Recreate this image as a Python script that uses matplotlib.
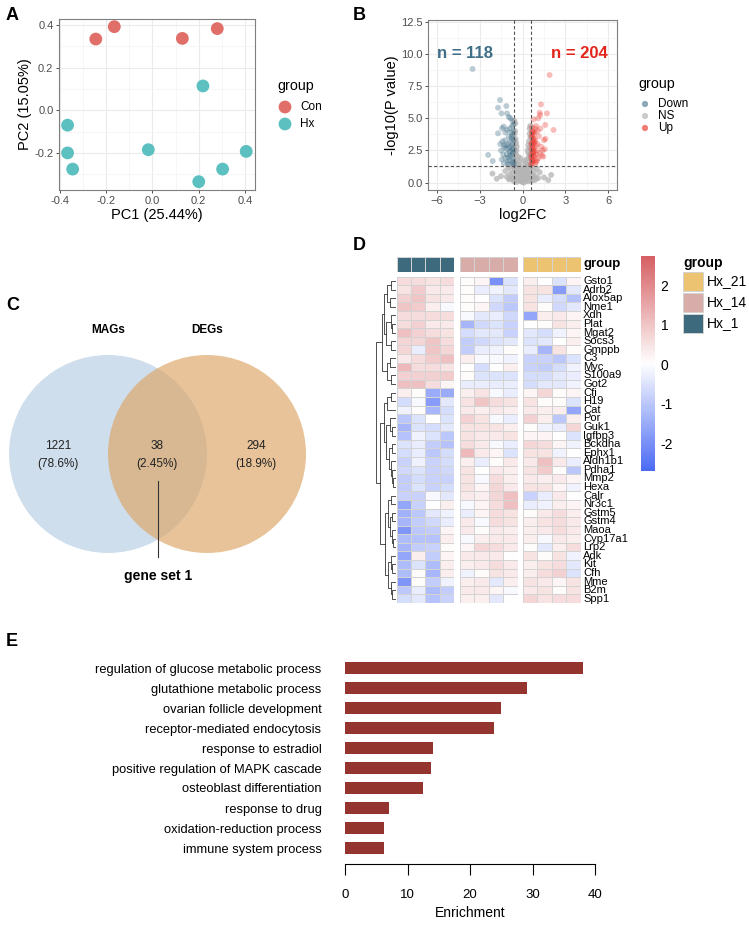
import numpy as np
import matplotlib
matplotlib.use("Agg")
import matplotlib.pyplot as plt
from matplotlib.patches import Circle, Rectangle
from matplotlib.colors import LinearSegmentedColormap, Normalize

plt.rcParams['font.family'] = ['Liberation Sans', 'DejaVu Sans']

# ---------------- DATA ----------------
# Panel A: PCA
pca_groups = ["Con", "Hx"]
con_pc1 = [-0.245, -0.165, 0.129, 0.280]
con_pc2 = [0.334, 0.392, 0.337, 0.383]
hx_pc1 = [0.218, -0.367, -0.367, -0.345, -0.018, 0.200, 0.303, 0.405]
hx_pc2 = [0.114, -0.070, -0.200, -0.276, -0.185, -0.335, -0.276, -0.193]

# Panel B: volcano
down_x = [-3.49, -1.57, -1.71, -1.13, -1.47, -1.08, -0.85, -1.31, -1.71, -1.43, -0.73, -1.08,
          -2.40, -2.08, -1.4, -1.3, -1.2, -1.1, -1.0, -0.9, -0.8, -0.75, -0.7, -0.65, -1.5,
          -1.35, -1.2, -1.05, -0.9, -0.8, -0.7, -1.25, -0.95, -0.85, -0.62, -1.45, -1.1,
          -0.68, -1.55, -0.6, -1.0, -1.3, -0.78, -0.9, -1.2, -0.65, -0.7, -0.95,
          -0.66, -0.72, -0.82, -0.61, -0.88, -1.15, -0.76, -0.64, -0.93, -1.02, -0.7, -0.63]
down_y = [8.83, 6.42, 5.82, 5.95, 5.38, 5.38, 5.0, 4.35, 3.83, 4.22, 4.4, 4.09,
          2.15, 1.68, 3.2, 2.9, 3.3, 2.6, 3.0, 2.4, 2.8, 3.4, 2.2, 1.8, 2.5,
          2.2, 1.9, 1.6, 1.7, 2.0, 1.5, 2.7, 3.6, 3.2, 2.6, 1.8, 2.2,
          3.0, 3.0, 1.4, 1.45, 1.5, 3.9, 4.2, 3.9, 4.0, 4.8, 5.1,
          2.35, 2.65, 2.45, 3.3, 2.1, 2.9, 3.55, 1.6, 2.75, 1.95, 3.7, 4.5]
up_x = [1.89, 1.29, 1.20, 1.71, 0.78, 2.17, 1.59, 1.24, 1.45, 0.65, 0.7, 0.75, 0.8, 0.65,
        0.7, 0.85, 0.9, 0.6, 0.95, 1.0, 1.05, 0.88, 0.72, 0.62, 0.78, 1.1, 1.2, 1.3, 1.5,
        1.4, 1.15, 0.95, 1.35, 1.55, 0.68, 0.82, 0.92, 1.05, 1.25, 0.6, 0.75, 0.66, 1.1,
        0.88, 1.6, 0.7, 0.8, 0.64, 0.62, 0.68, 0.74, 0.81, 0.63, 0.69, 0.77, 0.85, 0.97,
        1.02, 0.66, 0.73, 0.61, 0.79]
up_y = [8.36, 6.08, 5.43, 5.38, 4.92, 4.09, 4.48, 5.25, 2.02, 1.5, 1.9, 2.3, 2.7, 3.1,
        3.5, 3.9, 4.2, 2.0, 1.6, 2.5, 3.0, 3.3, 4.0, 2.6, 1.7, 1.9, 2.3, 2.8, 3.3,
        2.5, 3.6, 4.4, 2.1, 2.6, 3.8, 2.1, 2.9, 4.0, 4.2, 1.4, 3.0, 4.3, 5.0,
        1.5, 3.4, 2.4, 3.4, 1.8, 2.2, 2.8, 3.25, 2.45, 3.6, 1.65, 2.05, 3.15, 2.2,
        1.75, 3.95, 2.6, 3.0, 3.7]
ns_x = [0.0, 0.1, -0.1, 0.2, -0.2, 0.3, -0.3, 0.4, -0.4, 0.45, -0.45, 0.5, -0.5, 0.55, -0.55,
        0.5, -0.5, 0.0, 0.05, -0.05, 0.15, -0.15, 0.25, -0.25, 0.35, -0.35, 0.45, -0.45, 0.55,
        -0.55, 0.6, -0.6, 0.7, -0.7, 0.8, -0.8, 0.9, -0.9, 1.0, -1.0, 1.2, -1.2, 1.5, -1.5,
        0.3, -0.3, 0.35, -0.4, 0.45, -0.48, 0.2, -0.2, 0.1, -0.1, 0.4, -0.4, 0.0, 0.25, -0.25,
        1.8, -1.8, 2.0, -2.1, 0.3, -0.3, 0.15, -0.15, 0.5, -0.5, 0.05, -0.05, 0.6, -0.65,
        0.08, -0.08, 0.18, -0.18, 0.28, -0.28, 0.38, -0.38, 0.48, -0.48, 0.12, -0.12, 0.22,
        -0.22, 0.32, -0.32, 0.42, -0.42, 0.52, -0.52, 0.75, -0.75, 0.95, -0.95, 1.1, -1.1,
        0.65, -0.6, 0.85, -0.85, 0.4, -0.45, 0.5, -0.52, 0.35, -0.36, 0.02, -0.02, 0.55, -0.57]
ns_y = [0.05, 0.2, 0.3, 0.5, 0.6, 0.9, 1.0, 1.3, 1.5, 2.0, 2.2, 2.7, 3.0, 3.5, 3.8,
        4.2, 4.6, 0.5, 0.9, 1.2, 1.1, 0.8, 0.15, 0.2, 0.4, 0.5, 0.7, 0.9, 1.0,
        1.1, 0.3, 0.4, 0.6, 0.7, 0.9, 1.0, 0.5, 0.6, 1.1, 1.2, 0.8, 0.9, 0.4, 0.5,
        1.8, 2.0, 2.5, 2.8, 3.2, 3.4, 1.5, 1.6, 0.0, 0.1, 0.1, 0.05, 1.0, 1.3, 1.4,
        0.2, 0.3, 0.6, 0.7, 0.2, 0.35, 1.7, 1.9, 0.3, 0.2, 0.6, 0.7, 1.2, 1.3,
        0.35, 0.45, 0.65, 0.75, 0.55, 0.65, 0.8, 0.85, 1.6, 1.75, 0.25, 0.15, 0.95,
        1.05, 1.2, 1.15, 2.3, 2.5, 2.2, 2.4, 0.45, 0.35, 0.3, 0.25, 0.35, 0.45,
        0.15, 0.1, 0.2, 0.3, 2.9, 3.1, 3.8, 4.0, 0.6, 0.75, 0.25, 0.4, 4.4, 4.8]
n_down, n_up = 118, 204
fc_cut, p_cut = 0.585, 1.301

# Panel C: Venn counts
venn_sets = ["MAGs", "DEGs"]
venn_counts = [1221, 38, 294]

# Panel D: heatmap
genes = ["Gsto1", "Adrb2", "Alox5ap", "Nme1", "Xdh", "Plat", "Mgat2", "Socs3", "Gmppb", "C3",
         "Myc", "S100a9", "Got2", "Cfi", "H19", "Cat", "Por", "Guk1", "Igfbp3", "Bckdha",
         "Ephx1", "Aldh1b1", "Pdha1", "Mmp2", "Hexa", "Calr", "Nr3c1", "Gstm5", "Gstm4", "Maoa",
         "Cyp17a1", "Lrp2", "Adk", "Kit", "Cfh", "Mme", "B2m", "Spp1"]
heat_groups = ["Hx_1", "Hx_14", "Hx_21"]
heat_hx1 = [[0.6, 0.6, 0.5, 0.6], [0.5, 0.9, 0.4, 0.4], [0.8, 1.0, 0.5, 0.4], [1.0, 0.9, 0.3, -0.1],
            [0.6, 0.6, 0.6, 0.6], [0.6, 0.8, 0.4, 0.4], [1.1, 0.8, 0.6, 0.5], [0.7, 0.7, 1.0, 0.6],
            [0.7, -0.3, 1.0, 0.7], [0.4, 0.6, 0.9, 1.1], [1.2, 0.6, 0.6, 0.5], [0.8, 0.8, 0.8, 0.9],
            [1.1, 1.1, 0.6, 0.2], [0.3, 0.1, -1.5, -1.5], [-0.6, -0.1, -1.8, -0.4], [-0.2, 0.1, -1.3, -0.6],
            [-1.0, -0.5, 0.0, -0.5], [-1.3, -0.5, -0.6, -0.4], [-1.1, -0.2, -0.5, -1.0], [-0.5, -0.3, -0.9, -1.1],
            [-0.6, -0.3, -1.0, -0.6], [-0.8, -0.2, -0.8, -0.6], [-0.7, -0.5, -0.8, -0.7], [-0.9, -0.6, -0.8, -0.8],
            [-0.9, -0.5, -0.8, -0.6], [-0.8, -0.8, -0.1, -0.4], [-1.6, -0.8, 0.0, 0.3], [-1.4, -1.0, -0.4, -0.2],
            [-1.3, -0.9, -0.7, -0.3], [-1.9, -1.0, -0.9, 0.2], [-1.2, -1.1, -1.1, 0.3], [-1.3, -0.9, -0.8, 0.1],
            [-1.6, 0.3, -0.9, 0.2], [-1.2, -0.5, -1.2, 0.3], [-1.2, 0.1, -1.3, 0.3], [-1.9, 0.1, -0.9, -0.2],
            [-1.0, -0.3, -1.2, -0.9], [-0.6, -0.4, -1.1, -0.8]]
heat_hx14 = [[0.1, 0.2, -2.0, -0.5], [0.1, -0.3, -0.2, -0.4], [0.1, 0.0, -0.5, -0.9], [0.1, 0.2, -0.7, -1.0],
             [-0.1, -0.4, -0.3, -0.7], [-1.3, -0.7, -0.5, -0.8], [-0.6, -0.4, -0.4, -0.8], [-0.9, -0.7, -0.5, -0.4],
             [-0.9, -0.3, -0.2, 0.1], [0.3, -0.1, -0.1, -0.2], [0.0, -0.6, 0.0, 0.3], [0.1, -0.5, -0.5, -0.5],
             [-0.3, -0.3, -0.3, -0.3], [0.3, 0.5, -0.1, -0.3], [0.5, 1.0, 0.6, 0.5], [0.4, 0.3, 0.4, 0.3],
             [0.8, 0.5, -0.1, -0.3], [0.5, 0.5, 0.5, 0.3], [0.5, 0.4, 0.4, 0.5], [0.6, 0.4, -0.1, -0.3],
             [1.2, 0.4, 0.2, -0.5], [0.3, -0.3, 0.1, 0.4], [0.5, 0.0, 0.4, 0.3], [0.5, -0.1, 0.6, 0.3],
             [0.5, 0.2, 0.7, 0.4], [0.4, 0.3, 0.7, 1.1], [-0.1, 0.2, 0.6, 1.1], [-0.3, 0.2, 0.6, 0.5],
             [0.4, -0.1, 0.6, 0.5], [0.4, 0.1, 0.4, 0.3], [-0.1, 0.3, 0.4, 0.4], [0.2, 0.7, 0.6, 0.4],
             [0.4, 0.4, 0.4, 0.0], [0.3, 0.4, 0.6, 0.4], [-0.2, 0.1, 0.5, 0.4], [0.3, 0.4, -0.4, 0.3],
             [0.4, 0.4, 0.2, -0.1], [0.3, 0.3, -0.4, 0.0]]
heat_hx21 = [[0.3, 0.0, -0.5, 0.2], [0.5, 0.5, -1.8, -0.4], [0.5, -0.3, -0.6, -1.1], [0.5, 0.1, -0.7, -0.4],
             [-1.6, 0.3, 0.4, 0.2], [0.0, 0.1, 0.5, 0.3], [-0.4, -0.6, -0.2, 0.2], [-0.5, -0.4, 0.0, 0.3],
             [-0.3, -1.3, 0.5, 0.1], [-0.8, -0.8, -1.0, -0.5], [-0.8, -0.9, -0.6, -0.2], [-0.6, -0.6, -0.4, -0.3],
             [-0.6, -0.4, -0.4, -0.2], [0.2, 0.7, 0.1, 0.2], [0.5, 0.1, 0.1, -0.5], [0.4, 0.3, 0.3, -1.6],
             [0.8, 0.3, -1.0, 0.3], [0.1, -0.2, -0.3, 0.7], [0.2, 0.2, 0.0, -0.5], [0.7, 0.6, 0.2, -0.2],
             [0.5, 0.5, -0.2, 0.0], [0.4, 1.1, 0.4, -0.3], [0.5, 0.9, 0.1, -1.0], [0.4, 0.3, 0.4, 0.2],
             [0.5, 0.5, 0.2, -0.2], [-0.8, -0.3, 0.4, 0.0], [-0.3, -0.2, 0.3, 0.2], [0.1, 0.4, 0.6, 0.3],
             [0.3, 0.5, 0.6, 0.4], [0.3, 0.4, 0.6, 0.4], [0.3, -0.1, 0.4, 0.3], [0.1, -0.4, 0.3, 0.6],
             [0.5, 0.1, 0.5, -0.2], [0.3, 0.5, 0.6, -0.4], [0.3, 0.6, 0.8, -0.5], [0.5, 0.4, 0.2, 0.5],
             [0.4, 0.5, 0.1, 0.5], [0.7, 0.5, 0.6, 0.6]]
# row dendrogram (merge height, left, right); leaves are row indices
row_tree = [2.2,
            [1.6, [1.3, [1.0, [0.6, 0, 1], [0.7, 2, 3]],
                        [1.1, [0.6, 4, [0.4, 5, 6]], [0.6, 7, 8]]],
                  [1.0, [0.7, 9, 10], [0.6, 11, 12]]],
            [1.8, [1.4, [1.0, [0.6, 13, 14], 15],
                        [1.1, [0.7, 16, [0.5, 17, 18]],
                              [0.8, [0.5, 19, 20], [0.6, 21, [0.4, 22, [0.3, 23, 24]]]]]],
                  [1.2, [0.9, [0.6, 25, 26], [0.7, [0.4, 27, 28], [0.5, 29, [0.3, 30, 31]]]],
                        [0.9, [0.6, 32, [0.4, 33, 34]], [0.6, 35, [0.4, 36, 37]]]]]]
cbar_ticks = [-2, -1, 0, 1, 2]

# Panel E: enrichment
go_terms = ["regulation of glucose metabolic process", "glutathione metabolic process",
            "ovarian follicle development", "receptor-mediated endocytosis",
            "response to estradiol", "positive regulation of MAPK cascade",
            "osteoblast differentiation", "response to drug",
            "oxidation-reduction process", "immune system process"]
go_enrich = [38.1, 29.1, 25.0, 23.8, 14.1, 13.7, 12.5, 7.0, 6.3, 6.2]

# ---------------- FIGURE ----------------
W, H = 749, 932
fig = plt.figure(figsize=(W / 100, H / 100), dpi=100)


def px_axes(l, t, r, b, **kw):
    return fig.add_axes([l / W, 1 - b / H, (r - l) / W, (b - t) / H], **kw)


def ftext(x, y, s, **kw):
    fig.text(x / W, 1 - y / H, s, **kw)


ov = px_axes(0, 0, W, H, zorder=-5)
ov.set_xlim(0, W)
ov.set_ylim(H, 0)
ov.axis("off")

for lab, (x, y) in zip("ABCDE", [(6, 15), (353, 15), (6, 306), (353, 245), (6, 641)]):
    ftext(x, y, lab, fontsize=13, fontweight="bold", ha="left", va="center")


def theme_bw(ax, xmaj, xmin, ymaj, ymin):
    ax.set_xticks(xmaj)
    ax.set_xticks(xmin, minor=True)
    ax.set_yticks(ymaj)
    ax.set_yticks(ymin, minor=True)
    ax.grid(True, which="major", color="#EBEBEB", lw=0.8, zorder=0)
    ax.grid(True, which="minor", color="#F3F3F3", lw=0.5, zorder=0)
    ax.set_axisbelow(True)
    for s in ax.spines.values():
        s.set_color("#7F7F7F")
        s.set_linewidth(0.8)
    ax.tick_params(which="major", length=2.5, width=0.6, color="#333333", labelsize=8,
                   labelcolor="#4D4D4D", pad=1.5)
    ax.tick_params(which="minor", length=0)


# ---- Panel A ----
axA = px_axes(59, 19, 255, 190)
con_col, hx_col = "#E06F69", "#5CC0C0"
axA.scatter(con_pc1, con_pc2, s=85, color=con_col, edgecolors="none", zorder=3)
axA.scatter(hx_pc1, hx_pc2, s=85, color=hx_col, edgecolors="none", zorder=3)
axA.set_xlim(-0.404, 0.443)
axA.set_ylim(-0.374, 0.428)
theme_bw(axA, [-0.4, -0.2, 0.0, 0.2, 0.4], [-0.3, -0.1, 0.1, 0.3],
         [-0.2, 0.0, 0.2, 0.4], [-0.3, -0.1, 0.1, 0.3])
axA.set_xticklabels(["-0.4", "-0.2", "0.0", "0.2", "0.4"])
axA.set_yticklabels(["-0.2", "0.0", "0.2", "0.4"])
axA.set_xlabel("PC1 (25.44%)", fontsize=10.5, labelpad=1.5)
axA.set_ylabel("PC2 (15.05%)", fontsize=10.5, labelpad=1.5)
ftext(277, 86, "group", fontsize=10.3, va="center")
for i, (g, c) in enumerate(zip(pca_groups, [con_col, hx_col])):
    ov.scatter([285], [107 + 17 * i], s=85, color=c, edgecolors="none")
    ftext(300, 107 + 17 * i, g, fontsize=8.5, va="center")

# ---- Panel B ----
axB = px_axes(428, 20, 617, 190)
down_col, up_col, ns_col = "#3F6E87", "#E8261C", "#B5B5B5"
axB.scatter(ns_x, ns_y, s=18, color=ns_col, alpha=0.75, edgecolors="none", zorder=2)
axB.scatter(down_x, down_y, s=18, color=down_col, alpha=0.35, edgecolors="none", zorder=3)
axB.scatter(up_x, up_y, s=18, color=up_col, alpha=0.3, edgecolors="none", zorder=3)
for v in (-fc_cut, fc_cut):
    axB.axvline(v, color="#555555", lw=0.8, ls=(0, (3, 2)), zorder=4)
axB.axhline(p_cut, color="#555555", lw=0.8, ls=(0, (3, 2)), zorder=4)
axB.text(-4.0, 10.0, f"n = {n_down}", color="#3F6E87", fontsize=12, fontweight="bold",
         ha="center", va="center")
axB.text(4.0, 10.0, f"n = {n_up}", color="#E3261C", fontsize=12, fontweight="bold",
         ha="center", va="center")
axB.set_xlim(-6.6, 6.6)
axB.set_ylim(-0.57, 12.63)
theme_bw(axB, [-6, -3, 0, 3, 6], [-4.5, -1.5, 1.5, 4.5],
         [0, 2.5, 5, 7.5, 10, 12.5], [1.25, 3.75, 6.25, 8.75, 11.25])
axB.set_yticklabels(["0.0", "2.5", "5.0", "7.5", "10.0", "12.5"])
axB.set_xlabel("log2FC", fontsize=10.5, labelpad=1.5)
axB.set_ylabel("-log10(P value)", fontsize=10.5, labelpad=1.5)
ftext(638, 84, "group", fontsize=10.3, va="center")
for i, (g, c, a) in enumerate(zip(["Down", "NS", "Up"], [down_col, ns_col, up_col], [0.6, 0.7, 0.6])):
    ov.scatter([645], [104 + 12 * i], s=20, color=c, alpha=a, edgecolors="none")
    ftext(658, 104 + 12 * i, g, fontsize=8.5, va="center")

# ---- Panel C: Venn ----
axC = px_axes(0, 300, 370, 600)
axC.set_xlim(0, 370)
axC.set_ylim(600, 300)
axC.axis("off")
axC.add_patch(Circle((108, 454), 99, facecolor="#A9C3DD", alpha=0.55, edgecolor="none"))
axC.add_patch(Circle((207, 454), 99, facecolor="#DCA463", alpha=0.65, edgecolor="none"))
total = sum(venn_counts)
for x, c in zip([58, 157, 256], venn_counts):
    axC.text(x, 446, f"{c}", fontsize=8.5, ha="center", va="center", color="#222222")
    axC.text(x, 464, f"({100 * c / total:.3g}%)", fontsize=8.5, ha="center", va="center",
             color="#222222")
for x, s in zip([108, 207], venn_sets):
    axC.text(x, 330, s, fontsize=8.5, fontweight="bold", ha="center", va="center")
axC.plot([158, 158], [481, 557], color="#333333", lw=0.8)
axC.text(158, 576, "gene set 1", fontsize=10, fontweight="bold", ha="center", va="center")

# ---- Panel D: heatmap ----
cmap = LinearSegmentedColormap.from_list("bwr2", ["#4B6BF5", "#FFFFFF", "#D65F63"])
norm = Normalize(-2.7, 2.74)
ann_cols = {"Hx_1": "#3E6A7E", "Hx_14": "#D8ACA8", "Hx_21": "#ECC471"}
blocks = [(396.5, 454.0), (460.0, 517.5), (523.0, 580.5)]
nrow = len(genes)
for (l, r), g, vals in zip(blocks, heat_groups, [heat_hx1, heat_hx14, heat_hx21]):
    axh = px_axes(l, 276.7, r, 603)
    arr = np.array(vals)
    axh.pcolormesh(np.arange(5), np.arange(nrow + 1), arr, cmap=cmap, norm=norm,
                   edgecolors="#D3D3D3", linewidth=0.7)
    axh.set_xlim(0, 4)
    axh.set_ylim(nrow, 0)
    axh.axis("off")
    axa = px_axes(l, 257.3, r, 271.7)
    axa.pcolormesh(np.arange(5), [0, 1], np.zeros((1, 4)),
                   cmap=LinearSegmentedColormap.from_list("a", [ann_cols[g], ann_cols[g]]),
                   edgecolors="#D3D3D3", linewidth=0.7)
    axa.set_xlim(0, 4)
    axa.set_ylim(1, 0)
    axa.axis("off")
for i, gname in enumerate(genes):
    ftext(583, 276.7 + (i + 0.5) * (603 - 276.7) / nrow, gname, fontsize=8, va="center")
ftext(584, 264.5, "group", fontsize=9.5, fontweight="bold", va="center")

# dendrogram
axd = px_axes(376, 276.7, 396, 603)


def draw_tree(node):
    if isinstance(node, int):
        return node + 0.5, 0.0
    h, left, right = node
    yl, hl = draw_tree(left)
    yr, hr = draw_tree(right)
    axd.plot([hl, h, h, hr], [yl, yl, yr, yr], color="#333333", lw=0.6)
    return (yl + yr) / 2, h


draw_tree(row_tree)
axd.set_xlim(row_tree[0] * 1.02, 0)
axd.set_ylim(nrow, 0)
axd.axis("off")

# colorbar
axcb = px_axes(641, 256, 655, 470.7)
grad = np.linspace(-2.7, 2.74, 256).reshape(-1, 1)
axcb.imshow(grad, cmap=cmap, norm=norm, aspect="auto", origin="lower",
            extent=[0, 1, -2.7, 2.74])
axcb.set_xlim(0, 1)
axcb.set_ylim(-2.7, 2.74)
axcb.set_xticks([])
axcb.yaxis.tick_right()
axcb.set_yticks(cbar_ticks)
axcb.set_yticklabels([str(t) for t in cbar_ticks])
axcb.tick_params(axis="y", length=0, pad=4, labelsize=10)
for s in axcb.spines.values():
    s.set_visible(False)

ftext(683, 263, "group", fontsize=10, fontweight="bold", va="center")
for i, g in enumerate(["Hx_21", "Hx_14", "Hx_1"]):
    top = 271.7 + 21 * i
    ov.add_patch(Rectangle((683, top), 20, 19, facecolor=ann_cols[g], edgecolor="#D3D3D3", lw=0.7))
    ftext(707, top + 9.5, g, fontsize=10, va="center")

# ---- Panel E ----
narrow = ["Liberation Sans Narrow", "Liberation Sans", "DejaVu Sans"]
axE = px_axes(345, 658, 595, 858)
ypos = np.arange(len(go_terms))
axE.barh(ypos, go_enrich, height=0.57, color="#94342E")
axE.set_ylim(len(go_terms) - 0.5, -0.5)
axE.set_xlim(0, 40)
axE.set_yticks(ypos)
axE.set_yticklabels(go_terms, fontsize=9.3, family=narrow)
axE.tick_params(axis="y", length=0, pad=17)
for s in ["top", "right", "left"]:
    axE.spines[s].set_visible(False)
axE.spines["bottom"].set_position(("outward", 4))
axE.spines["bottom"].set_bounds(0, 40)
axE.spines["bottom"].set_linewidth(0.8)
axE.set_xticks([0, 10, 20, 30, 40])
axE.set_xticklabels(["0", "10", "20", "30", "40"], fontsize=9.5, family=narrow)
axE.tick_params(axis="x", length=8, width=0.8, pad=10)
axE.set_xlabel("Enrichment", fontsize=10, family=narrow, labelpad=4)

fig.savefig("out.png", dpi=100)
